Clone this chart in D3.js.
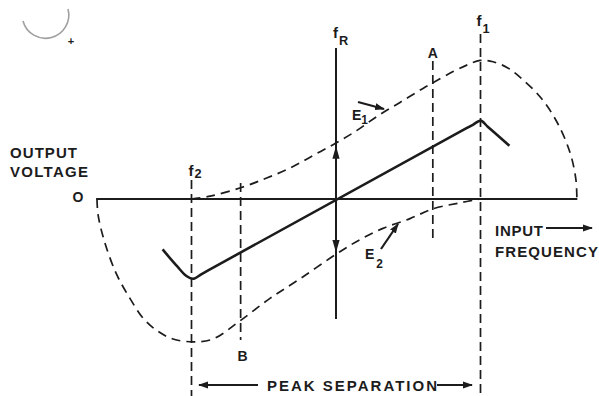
<!DOCTYPE html>
<html><head><meta charset="utf-8">
<script src="https://cdn.jsdelivr.net/npm/d3@7"></script>
<style>
html,body{margin:0;padding:0;background:#fff;}
svg{display:block;}
text{font-family:"Liberation Sans",Arial,sans-serif;font-weight:bold;fill:#1c1c1c;}
</style></head>
<body>
<svg id="c" width="599" height="396"></svg>
<script>
// ---- data (frequency in units of (f - fR)/(f1 - fR), voltage in units of E1 peak) ----
const e1Freq = [-1.0,-0.87,-0.66,-0.48,-0.32,-0.16,0,0.145,0.284,0.443,0.602,0.671,0.81,0.913,0.997,1.087,1.183,1.273,1.412,1.529,1.62,1.66,1.667];
const e1Volt = [0,0.02,0.08,0.15,0.22,0.31,0.40,0.49,0.59,0.69,0.79,0.83,0.91,0.96,0.99,0.98,0.94,0.87,0.73,0.55,0.33,0.14,0];
const e2Freq = [-1.654,-1.647,-1.606,-1.522,-1.426,-1.336,-1.239,-1.128,-0.99,-0.851,-0.664,-0.457,-0.249,0.007,0.166,0.325,0.512,0.671,0.844,0.997];
const e2Volt = [0,-0.11,-0.29,-0.53,-0.71,-0.85,-0.94,-1.0,-1.02,-1.0,-0.87,-0.71,-0.57,-0.39,-0.29,-0.21,-0.14,-0.07,-0.03,0];
const outFreq = [-1.20,-1.10,-1.035,-0.99,-0.93,-0.85,0.90,0.95,1.0,1.05,1.20];
const outVolt = [-0.36,-0.48,-0.55,-0.57,-0.536,-0.49,0.504,0.532,0.56,0.516,0.38];
const markerLabels = ["f2","B","fR","A","f1"];
const markerFreq = [-1.0,-0.66,0,0.67,1.0];
const axisFreq = [-1.66, 1.67];

const svg = d3.select("#c");
const x = d3.scaleLinear().domain([-1,1]).range([191.5,480.5]);
const y = d3.scaleLinear().domain([-1,1]).range([339,59]);
const ink = "#1c1c1c";

// scan artefact at top-left
svg.append("path").attr("d","M23,21 A23,23 0 0 0 68,9").attr("fill","none")
   .attr("stroke","#a0a0a0").attr("stroke-width",1.6);
svg.append("text").attr("x",71).attr("y",45).attr("font-size",11).attr("text-anchor","middle").text("+");

// zero axis
svg.append("line").attr("x1",x(axisFreq[0])).attr("x2",x(axisFreq[1]))
   .attr("y1",y(0)).attr("y2",y(0)).attr("stroke",ink).attr("stroke-width",2);

// marker verticals
const mk = markerLabels.map((l,i)=>({l, f:markerFreq[i]}));
const ext = {f2:[180,396], B:[183,340], fR:[48,319], A:[61,238], f1:[34,396]};
mk.forEach(m=>{
  const [y1,y2] = ext[m.l];
  const ln = svg.append("line").attr("x1",x(m.f)).attr("x2",x(m.f)).attr("y1",y1).attr("y2",y2)
    .attr("stroke",ink);
  if (m.l==="fR") ln.attr("stroke-width",2);
  else ln.attr("stroke-width",1.7).attr("stroke-dasharray","9,5");
});

// curves
const dashLine = d3.line().x(d=>x(d[0])).y(d=>y(d[1])).curve(d3.curveCatmullRom.alpha(0.5));
const solidLine = d3.line().x(d=>x(d[0])).y(d=>y(d[1])).curve(d3.curveMonotoneX);
const e1 = e1Freq.map((f,i)=>[f,e1Volt[i]]);
const e2 = e2Freq.map((f,i)=>[f,e2Volt[i]]);
const out = outFreq.map((f,i)=>[f,outVolt[i]]);
svg.append("path").attr("d",dashLine(e1)).attr("fill","none").attr("stroke",ink)
   .attr("stroke-width",1.7).attr("stroke-dasharray","9,6");
svg.append("path").attr("d",dashLine(e2)).attr("fill","none").attr("stroke",ink)
   .attr("stroke-width",1.7).attr("stroke-dasharray","9,6");
svg.append("path").attr("d",solidLine(out)).attr("fill","none").attr("stroke",ink)
   .attr("stroke-width",2.6).attr("stroke-linejoin","round");

// arrow marker
const defs = svg.append("defs");
defs.append("marker").attr("id","ah").attr("viewBox","0 0 10 10").attr("refX",9).attr("refY",5)
  .attr("markerWidth",10).attr("markerHeight",10).attr("markerUnits","userSpaceOnUse")
  .attr("orient","auto").append("path").attr("d","M0,1.5 L10,5 L0,8.5 Z").attr("fill",ink);
defs.append("marker").attr("id","ahb").attr("viewBox","0 0 14 10").attr("refX",13).attr("refY",5)
  .attr("markerWidth",14).attr("markerHeight",9).attr("markerUnits","userSpaceOnUse")
  .attr("orient","auto").append("path").attr("d","M0,1 L14,5 L0,9 Z").attr("fill",ink);
function arrow(x1,y1,x2,y2,w,m){
  svg.append("line").attr("x1",x1).attr("y1",y1).attr("x2",x2).attr("y2",y2)
    .attr("stroke",ink).attr("stroke-width",w).attr("marker-end","url(#"+(m||"ah")+")");
}
// E1 / E2 vectors on fR axis
arrow(x(0), y(0), x(0), y(e1Volt[6])+4, 2, "ahb");
arrow(x(0), y(0), x(0), y(e2Volt[13])-2, 2, "ahb");
// label arrows
arrow(358,102,384,109,2.2);
arrow(381,249,398,224,2.2);
// bottom and right arrows
arrow(258,385,199,385,2);
arrow(437,385,472,385,2);
arrow(546,228,592,228,2);

// texts
function txt(s,xp,yp,fs,anchor,len){
  const t = svg.append("text").attr("x",xp).attr("y",yp).attr("font-size",fs)
    .attr("text-anchor",anchor||"start").text(s);
  if(len) t.attr("textLength",len).attr("lengthAdjust","spacing");
  return t;
}
txt("OUTPUT",10,158,15,"start",67);
txt("VOLTAGE",10,177,15,"start",78);
txt("O",78,202,14,"middle");
txt("INPUT",495,236,15,"start",48);
txt("FREQUENCY",495,257,15,"start",103);
txt("PEAK  SEPARATION",267,391,15,"start",170);

// marker labels
function sub(main,s,xp,yp,fs,dx,dy){
  const t = svg.append("text").attr("x",xp).attr("y",yp).attr("font-size",fs);
  t.append("tspan").text(main);
  t.append("tspan").attr("dx",dx).attr("dy",dy).attr("font-size",fs*0.85).text(s);
}
sub("f","2",x(-1)-3,176,15,1,2);
sub("f","R",x(0)-3,38,15,1,7);
sub("f","1",x(1)-4,26,15,1,7);
txt("A",x(0.67),58,14,"middle");
txt("B",x(-0.66)+2,361,14,"middle");
sub("E","1",352,120,14,0,4);
sub("E","2",365,259,14,2,9);
</script>
</body></html>
